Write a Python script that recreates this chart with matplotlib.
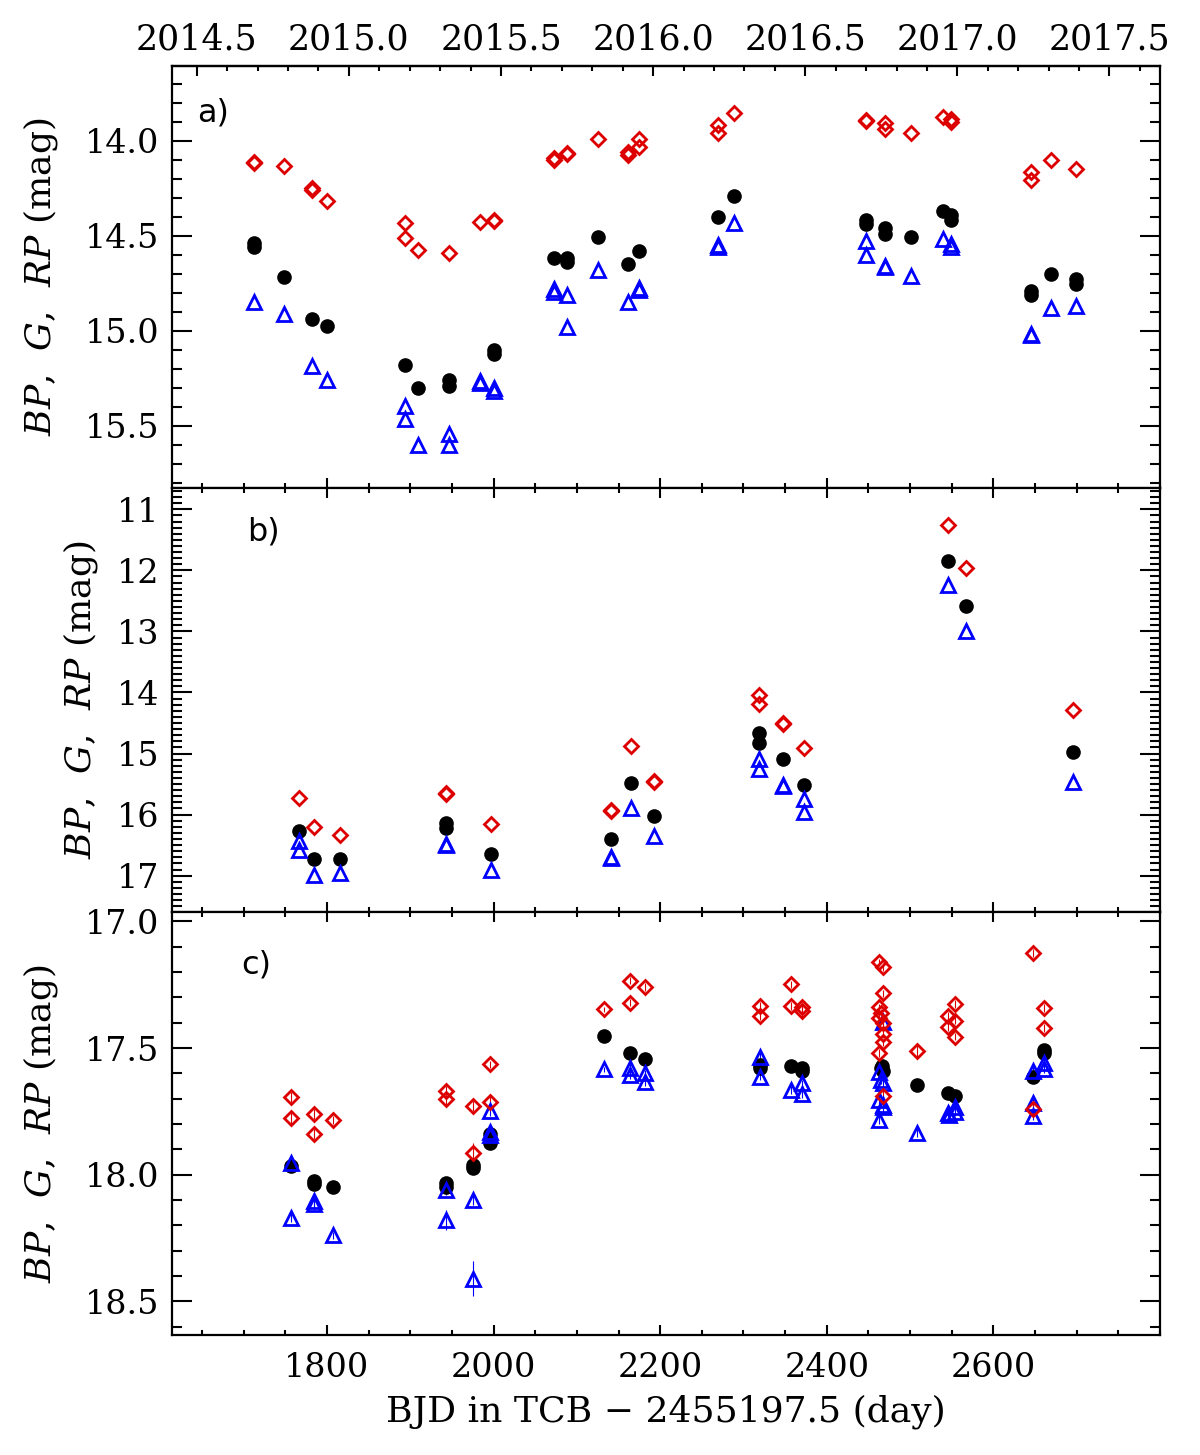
import matplotlib
matplotlib.use('Agg')
import matplotlib.pyplot as plt
from matplotlib.ticker import MultipleLocator, FixedLocator

plt.rcParams['font.family'] = ['DejaVu Serif']
plt.rcParams['mathtext.fontset'] = 'dejavuserif'

# panel a) --------------------------------------------------------------
a_rp_day = [1713, 1713, 1749, 1782, 1782, 1800, 1894, 1894, 1909, 1946, 1984, 2000, 2000,
            2072, 2072, 2088, 2088, 2125, 2161, 2161, 2175, 2175, 2269, 2269, 2289, 2447.5,
            2447.5, 2470, 2470, 2501.6, 2540, 2549, 2549, 2645, 2645, 2669, 2699]
a_rp = [14.11, 14.115, 14.135, 14.25, 14.26, 14.32, 14.435, 14.51, 14.575, 14.59, 14.428, 14.415,
        14.425, 14.09, 14.10, 14.065, 14.07, 13.99, 14.06, 14.075, 13.99, 14.035, 13.917, 13.958,
        13.853, 13.89, 13.895, 13.905, 13.937, 13.96, 13.875, 13.884, 13.90, 14.166, 14.207,
        14.103, 14.147]
a_g_day = [1713, 1713, 1749, 1782, 1800, 1894, 1909, 1946, 1946, 2000, 2000, 2072, 2088, 2088,
           2125, 2161, 2175, 2269, 2289, 2447.5, 2447.5, 2470, 2470, 2501.6, 2540, 2549, 2549,
           2645, 2645, 2669, 2699, 2699]
a_g = [14.54, 14.56, 14.72, 14.94, 14.975, 15.18, 15.30, 15.26, 15.29, 15.10, 15.125, 14.62,
       14.62, 14.64, 14.505, 14.65, 14.58, 14.40, 14.29, 14.42, 14.44, 14.46, 14.49, 14.507,
       14.37, 14.39, 14.42, 14.79, 14.81, 14.70, 14.73, 14.755]
a_bp_day = [1713, 1749, 1782, 1800, 1894, 1894, 1909, 1946, 1946, 1984, 1984, 2000, 2000, 2072,
            2072, 2088, 2088, 2125, 2161, 2175, 2175, 2269, 2269, 2289, 2447.5, 2447.5, 2470,
            2470, 2501.6, 2540, 2549, 2549, 2645, 2645, 2669, 2699]
a_bp = [14.85, 14.91, 15.186, 15.26, 15.395, 15.465, 15.60, 15.545, 15.60, 15.265, 15.275, 15.30,
        15.32, 14.78, 14.795, 14.81, 14.98, 14.68, 14.85, 14.775, 14.785, 14.55, 14.56, 14.435,
        14.53, 14.60, 14.66, 14.665, 14.71, 14.52, 14.545, 14.56, 15.015, 15.025, 14.88, 14.87]

# panel b) --------------------------------------------------------------
b_rp_day = [1766, 1785, 1816, 1943, 1943, 1997, 2141, 2141, 2165, 2192, 2192, 2319, 2319, 2347,
            2347, 2373, 2545, 2567.6, 2695.6]
b_rp = [15.73, 16.20, 16.33, 15.64, 15.66, 16.16, 15.92, 15.94, 14.87, 15.45, 15.46, 14.04, 14.19,
        14.50, 14.51, 14.905, 11.25, 11.96, 14.29]
b_g_day = [1766, 1785, 1816, 1943, 1943, 1997, 2141, 2165, 2192, 2319, 2319, 2347, 2373, 2545,
           2567.6, 2695.6]
b_g = [16.27, 16.73, 16.73, 16.14, 16.215, 16.65, 16.405, 15.48, 16.02, 14.67, 14.82, 15.095,
       15.515, 11.847, 12.58, 14.97]
b_bp_day = [1766, 1766, 1785, 1816, 1943, 1943, 1997, 2141, 2141, 2165, 2192, 2319, 2319, 2347,
            2347, 2373, 2373, 2545, 2567.6, 2695.6]
b_bp = [16.43, 16.58, 16.99, 16.96, 16.48, 16.50, 16.90, 16.69, 16.71, 15.90, 16.35, 15.095, 15.25,
        15.52, 15.54, 15.75, 15.96, 12.245, 12.99, 15.47]

# panel c) --------------------------------------------------------------
c_rp_day = [1757, 1757, 1784, 1784, 1807, 1943.5, 1943.5, 1975, 1975, 1996, 1996, 2132, 2164,
            2164, 2182, 2320, 2320, 2357, 2357, 2370, 2370, 2463, 2468, 2468, 2463, 2465, 2463,
            2468, 2468, 2468, 2463, 2467, 2508, 2545, 2554, 2554, 2545, 2554, 2647, 2661, 2661,
            2647]
c_rp = [17.692, 17.778, 17.76, 17.84, 17.785, 17.669, 17.703, 17.728, 17.916, 17.565, 17.715,
        17.347, 17.234, 17.321, 17.258, 17.334, 17.374, 17.249, 17.334, 17.34, 17.353, 17.162,
        17.179, 17.284, 17.34, 17.36, 17.38, 17.40, 17.446, 17.478, 17.519, 17.69, 17.511,
        17.373, 17.326, 17.392, 17.416, 17.455, 17.126, 17.342, 17.422, 17.742]
c_rp_err = [0.02, 0.03, 0.02, 0.02, 0.015, 0.02, 0.02, 0.02, 0.04, 0.015, 0.03, 0.01, 0.015,
            0.015, 0.015, 0.015, 0.015, 0.015, 0.015, 0.015, 0.03, 0.015, 0.015, 0.015, 0.015,
            0.015, 0.015, 0.015, 0.015, 0.015, 0.015, 0.02, 0.025, 0.015, 0.015, 0.015, 0.015,
            0.015, 0.015, 0.015, 0.015, 0.02]
c_g_day = [1757, 1784, 1784, 1807, 1943.5, 1943.5, 1975, 1975, 1996, 1996, 2132, 2164, 2182,
           2320, 2320, 2357, 2370, 2370, 2466, 2465, 2467, 2508, 2545, 2554, 2647, 2661, 2661]
c_g = [17.966, 18.025, 18.035, 18.048, 18.034, 18.048, 17.96, 17.973, 17.84, 17.876, 17.453,
       17.519, 17.544, 17.567, 17.58, 17.57, 17.58, 17.59, 17.57, 17.58, 17.59, 17.646, 17.679,
       17.688, 17.613, 17.508, 17.521]
c_bp_day = [1757, 1757, 1784, 1784, 1807, 1943.5, 1943.5, 1975, 1975, 1996, 1996, 1996, 2132,
            2164, 2164, 2182, 2182, 2320, 2320, 2357, 2370, 2370, 2467, 2463, 2465, 2468, 2463,
            2468, 2468, 2463, 2508, 2545, 2547, 2554, 2554, 2647, 2647, 2647, 2661, 2661]
c_bp = [17.955, 18.17, 18.105, 18.115, 18.24, 18.06, 18.18, 18.10, 18.41, 17.748, 17.832, 17.842,
        17.584, 17.58, 17.607, 17.60, 17.633, 17.534, 17.613, 17.666, 17.64, 17.683, 17.396,
        17.594, 17.627, 17.64, 17.706, 17.725, 17.732, 17.785, 17.835, 17.758, 17.765, 17.732,
        17.752, 17.59, 17.718, 17.769, 17.558, 17.584]
c_bp_err = [0.015, 0.015, 0.03, 0.02, 0.015, 0.02, 0.04, 0.02, 0.07, 0.02, 0.015, 0.015, 0.01,
            0.015, 0.015, 0.015, 0.015, 0.015, 0.015, 0.015, 0.015, 0.015, 0.015, 0.015, 0.015,
            0.015, 0.015, 0.015, 0.015, 0.015, 0.015, 0.015, 0.015, 0.015, 0.015, 0.015, 0.015,
            0.015, 0.015, 0.015]

day_ticks = [1800, 2000, 2200, 2400, 2600]
year_ticks = [2014.5, 2015.0, 2015.5, 2016.0, 2016.5, 2017.0, 2017.5]

panels = [
    dict(rp_day=a_rp_day, rp=a_rp, g_day=a_g_day, g=a_g, bp_day=a_bp_day, bp=a_bp,
         ylim=(15.828, 13.607), major=0.5, minor=0.1, fmt='{:.1f}', tag='a)',
         tagxy=(0.025, 0.889), labx=-0.113),
    dict(rp_day=b_rp_day, rp=b_rp, g_day=b_g_day, g=b_g, bp_day=b_bp_day, bp=b_bp,
         ylim=(17.596, 10.651), major=1.0, minor=0.1, fmt='{:.0f}', tag='b)',
         tagxy=(0.076, 0.897), labx=-0.073),
    dict(rp_day=c_rp_day, rp=c_rp, g_day=c_g_day, g=c_g, bp_day=c_bp_day, bp=c_bp,
         rp_err=c_rp_err, bp_err=c_bp_err,
         ylim=(18.633, 16.963), major=0.5, minor=0.1, fmt='{:.1f}', tag='c)',
         tagxy=(0.070, 0.875), labx=-0.113),
]

RED = '#dd0000'
BLUE = '#0000ff'

fig = plt.figure(figsize=(12, 14.55), dpi=100)
W, H = 1200, 1455
left, right = 172, 1160
tops = [66, 488, 912]
bottoms = [488, 912, 1335]

axes = []
for i, p in enumerate(panels):
    ax = fig.add_axes([left / W, 1 - bottoms[i] / H, (right - left) / W,
                       (bottoms[i] - tops[i]) / H])
    axes.append(ax)

    if 'bp_err' in p:
        ax.errorbar(p['bp_day'], p['bp'], yerr=p['bp_err'], fmt='none', ecolor=BLUE,
                    elinewidth=0.8, zorder=1)
        ax.errorbar(p['rp_day'], p['rp'], yerr=p['rp_err'], fmt='none', ecolor=RED,
                    elinewidth=0.8, zorder=1)
    ax.plot(p['g_day'], p['g'], 'o', color='black', ms=9.5, zorder=2)
    ax.plot(p['bp_day'], p['bp'], '^', mfc='none', mec=BLUE, mew=2.0, ms=10.5, zorder=3)
    ax.plot(p['rp_day'], p['rp'], 'D', mfc='none', mec=RED, mew=2.0, ms=7, zorder=4)

    ax.set_xlim(1614, 2800)
    ax.set_ylim(*p['ylim'])
    ax.xaxis.set_major_locator(FixedLocator(day_ticks))
    ax.xaxis.set_minor_locator(MultipleLocator(50))
    ax.yaxis.set_major_locator(MultipleLocator(p['major']))
    ax.yaxis.set_minor_locator(MultipleLocator(p['minor']))
    ax.yaxis.set_major_formatter(lambda v, pos, f=p['fmt']: f.format(v))

    ax.tick_params(axis='y', which='major', direction='in', length=14.5, width=1.5,
                   left=True, right=True, labelsize=24, pad=9)
    ax.tick_params(axis='y', which='minor', direction='in', length=7, width=1.5,
                   left=True, right=True)
    ax.tick_params(axis='x', which='major', direction='in', length=7, width=1.5,
                   bottom=True, top=(i > 0), labelsize=24, pad=12)
    ax.tick_params(axis='x', which='minor', direction='in', length=3.5, width=1.5,
                   bottom=True, top=(i > 0))
    if i < 2:
        ax.tick_params(axis='x', labelbottom=False)
    for s in ax.spines.values():
        s.set_linewidth(1.6)

    ax.set_ylabel(r'$\mathit{BP}$,  $\mathit{G}$,  $\mathit{RP}$ (mag)', fontsize=26)
    ax.yaxis.set_label_coords(p['labx'], 0.5)
    ax.text(p['tagxy'][0], p['tagxy'][1], p['tag'], transform=ax.transAxes,
            fontsize=23, family='DejaVu Sans', ha='left', va='center')

axes[2].set_xlabel('BJD in TCB \u2212 2455197.5 (day)', fontsize=26, labelpad=8)

# years on top of panel a)
top = axes[0].secondary_xaxis('top', functions=(lambda d: 2010 + d / 365.25,
                                                lambda y: (y - 2010) * 365.25))
top.xaxis.set_major_locator(FixedLocator(year_ticks))
top.xaxis.set_minor_locator(FixedLocator([2014.5 + 0.1 * k for k in range(-2, 34)]))
top.xaxis.set_major_formatter(lambda v, pos: '{:.1f}'.format(v))
top.tick_params(axis='x', which='major', direction='in', length=7, width=1.5,
                labelsize=25, pad=7)
top.tick_params(axis='x', which='minor', direction='in', length=3.5, width=1.5)
top.spines['top'].set_linewidth(1.6)

fig.savefig('out.png', dpi=100)
